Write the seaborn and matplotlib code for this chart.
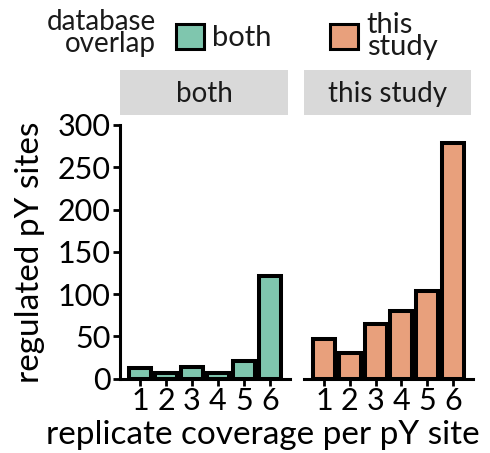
import matplotlib
matplotlib.use("Agg")
import matplotlib.pyplot as plt
from matplotlib.patches import Patch, Rectangle
import seaborn as sns
import pandas as pd

# Regulated pY sites per replicate coverage, split by database overlap
coverage = [1, 2, 3, 4, 5, 6]
both_counts = [12, 6, 14, 6, 21, 121]
this_study_counts = [47, 30, 64, 80, 104, 279]
groups = ["both", "this study"]
legend_labels = ["both", "this\nstudy"]
colors = {"both": "#7fc6ae", "this study": "#e8a07c"}
y_ticks = [0, 50, 100, 150, 200, 250, 300]

df = pd.DataFrame({
    "coverage": coverage * 2,
    "overlap": ["both"] * 6 + ["this study"] * 6,
    "count": both_counts + this_study_counts,
})

sns.set_theme(style="ticks")
plt.rcParams["font.family"] = ["Lato", "DejaVu Sans"]

W, H = 490, 453
fig = plt.figure(figsize=(W / 100, H / 100), dpi=100)


def fig_rect(x0, x1, y_top, y_bot):
    return [x0 / W, 1 - y_bot / H, (x1 - x0) / W, (y_bot - y_top) / H]


panels = [(120, 290), (304, 473)]
edge_lw = 2.9
tick_fs = 22
for i, (grp, (x0, x1)) in enumerate(zip(groups, panels)):
    ax = fig.add_axes(fig_rect(x0, x1, 125, 378.5))
    sub = df[df["overlap"] == grp]
    sns.barplot(data=sub, x="coverage", y="count", color=colors[grp],
                width=0.86, edgecolor="black", linewidth=edge_lw,
                saturation=1, ax=ax)
    ax.set_xlim(-0.78, 5.78)
    ax.set_ylim(0, 300)
    ax.set_xlabel("")
    ax.set_ylabel("")
    ax.spines["top"].set_visible(False)
    ax.spines["right"].set_visible(False)
    for side in ("bottom", "left"):
        ax.spines[side].set_linewidth(2.2)
        ax.spines[side].set_color("black")
    ax.tick_params(axis="x", length=5, width=2.0, color="black",
                   labelsize=tick_fs, pad=1, labelcolor="black")
    if i == 0:
        ax.set_yticks(y_ticks)
        ax.tick_params(axis="y", length=5, width=2.0, color="black",
                       labelsize=tick_fs, pad=2, labelcolor="black")
    else:
        ax.spines["left"].set_visible(False)
        ax.set_yticks([])
    # facet strip
    fig.patches.append(Rectangle((x0 / W, 1 - 115 / H), (x1 - x0 - 2) / W,
                                 45 / H, transform=fig.transFigure,
                                 facecolor="#d9d9d9", edgecolor="none"))
    fig.text((x0 + x1 - 2) / 2 / W, 1 - 94 / H, grp, ha="center",
             va="center", fontsize=20, color="#1a1a1a")

fig.text(30 / W, 1 - 252 / H, "regulated pY sites", rotation=90,
         ha="center", va="center", fontsize=24, color="black")
fig.text(263 / W, 1 - 435 / H, "replicate coverage per pY site",
         ha="center", va="center", fontsize=24, color="black")

# legend
fig.text(156 / W, 1 - 33 / H, "database\noverlap", ha="right", va="center",
         fontsize=20, linespacing=0.8, color="#1a1a1a")
handles = [Patch(facecolor=colors[g], edgecolor="black", linewidth=2.2)
           for g in groups]
leg = fig.legend(handles, legend_labels, loc="center left",
                 bbox_to_anchor=(176 / W, 1 - 36 / H), ncol=2, frameon=False,
                 fontsize=21, handlelength=0.95, handleheight=0.95,
                 handletextpad=0.3, columnspacing=2.0, borderpad=0,
                 labelspacing=0.2, borderaxespad=0)
for t in leg.get_texts():
    t.set_linespacing(0.8)
    t.set_color("#1a1a1a")

fig.savefig("out.png", dpi=100)
